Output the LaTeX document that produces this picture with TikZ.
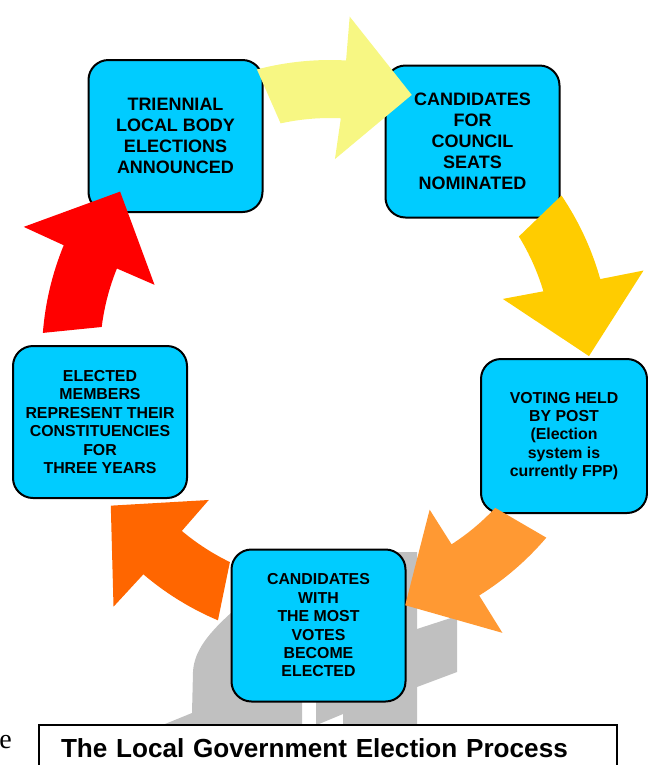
\documentclass[tikz,border=0pt]{standalone}
\usepackage{fontspec}
\setmainfont{Liberation Serif}
\setsansfont{Liberation Sans}
\usepackage{xcolor}
\usepackage{tikz}
\usetikzlibrary{positioning, calc}

\definecolor{boxcyan}{HTML}{00CCFF}
\definecolor{arrowyellow}{HTML}{F7F783}
\definecolor{arrowgold}{HTML}{FFCC00}
\definecolor{arrowlight}{HTML}{FF9933}
\definecolor{arrowdark}{HTML}{FF6600}
\definecolor{arrowred}{HTML}{FF0000}
\definecolor{markgray}{HTML}{C0C0C0}

\begin{document}
\begin{tikzpicture}[x=0.75pt, y=0.75pt,
    stage/.style={draw=black, line width=1.5pt, rounded corners=15pt, fill=boxcyan, minimum width=130.5pt, minimum height=114pt, align=center, inner sep=2pt},
    bigtext/.style={font=\sffamily\bfseries\fontsize{13.5}{15.75}\selectfont},
    smalltext/.style={font=\sffamily\bfseries\fontsize{11.9}{13.8}\selectfont}]
    \useasboundingbox (0,0) rectangle (648,-765);

    % --- WATERMARK (behind everything) ---
    \fill[markgray] (232,-612) .. controls (210,-632) and (194,-650) .. (193,-672) -- (192,-713) -- (165,-724) -- (302,-724) -- (302,-612) -- cycle;
    \fill[markgray] (316,-552) -- (417,-552) -- (417,-724) -- (343,-724) -- (343,-714) -- (319,-724) -- (316,-724) -- cycle;
    \fill[markgray] (417,-629) -- (457,-616) -- (457,-672) -- (417,-687) -- cycle;

    % --- STAGES ---
    \node (announce) [stage, bigtext] at (175.5,-136) {TRIENNIAL\\LOCAL BODY\\ELECTIONS\\ANNOUNCED};
    \node (nominate) [stage, bigtext] at (472.5,-141.5) {CANDIDATES\\FOR\\COUNCIL\\SEATS\\NOMINATED};
    \node (voting) [stage, smalltext, minimum width=124.5pt, minimum height=115.5pt] at (564,-436) {VOTING HELD\\BY POST\\(Election\\system is\\currently FPP)};
    \node (elected) [stage, smalltext] at (318.5,-625.5) {CANDIDATES\\WITH\\THE MOST\\VOTES\\BECOME\\ELECTED};
    \node (represent) [stage, smalltext] at (100,-422) {ELECTED\\MEMBERS\\REPRESENT THEIR\\CONSTITUENCIES\\FOR\\THREE YEARS};

    % --- CYCLE ARROWS ---
    \coordinate (cyel) at (330,-348);
    \coordinate (cgold) at (323,-357);
    \coordinate (clight) at (327,-351);
    \coordinate (cdark) at (330,-355);
    \coordinate (cred) at (330,-355);

    % announce -> nominate
    \fill[arrowyellow] ($(cyel)+(104.7:288)$) arc[start angle=104.7, end angle=86.8, radius=288] -- ($(cyel)+(86.6:332)$) -- ($(cyel)+(72.1:266)$) -- ($(cyel)+(88.5:189)$) -- ($(cyel)+(87.3:230)$) arc[start angle=87.3, end angle=102.4, radius=230] -- cycle;
    % nominate -> voting
    \fill[arrowgold] ($(cgold)+(34.1:288)$) arc[start angle=34.1, end angle=15.7, radius=288] -- ($(cgold)+(15.1:332)$) -- ($(cgold)+(0.2:266)$) -- ($(cgold)+(17.9:189)$) -- ($(cgold)+(16.6:230)$) arc[start angle=16.6, end angle=31.6, radius=230] -- cycle;
    % voting -> elected
    \fill[arrowlight] ($(clight)+(-40.4:288)$) arc[start angle=-40.4, end angle=-58.1, radius=288] -- ($(clight)+(-58.1:332)$) -- ($(clight)+(-72.9:266)$) -- ($(clight)+(-57.1:189)$) -- ($(clight)+(-57.2:230)$) arc[start angle=-57.2, end angle=-43.0, radius=230] -- cycle;
    % elected -> represent
    \fill[arrowdark] ($(cdark)+(247.1:288)$) arc[start angle=247.1, end angle=229.6, radius=288] -- ($(cdark)+(229.3:332)$) -- ($(cdark)+(214.5:266)$) -- ($(cdark)+(230.1:189)$) -- ($(cdark)+(229.9:230)$) arc[start angle=229.9, end angle=244.2, radius=230] -- cycle;
    % represent -> announce
    \fill[arrowred] ($(cred)+(175.6:288)$) arc[start angle=175.6, end angle=157.6, radius=288] -- ($(cred)+(157.3:332)$) -- ($(cred)+(142.1:266)$) -- ($(cred)+(158.2:189)$) -- ($(cred)+(157.9:230)$) arc[start angle=157.9, end angle=173.0, radius=230] -- cycle;

    % --- CAPTION ---
    \node (title) [draw=black, fill=white, line width=1.5pt, anchor=north west, text width=400.5pt, inner xsep=16.5pt, inner ysep=10.5pt, align=left, font=\sffamily\bfseries\fontsize{19.6}{24}\selectfont] at (38,-724) {The Local Government Election Process};
    \node (margin_e) [anchor=base east, inner sep=0pt, font=\fontsize{21}{24}\selectfont] at (12,-748) {e};

\end{tikzpicture}
\end{document}
